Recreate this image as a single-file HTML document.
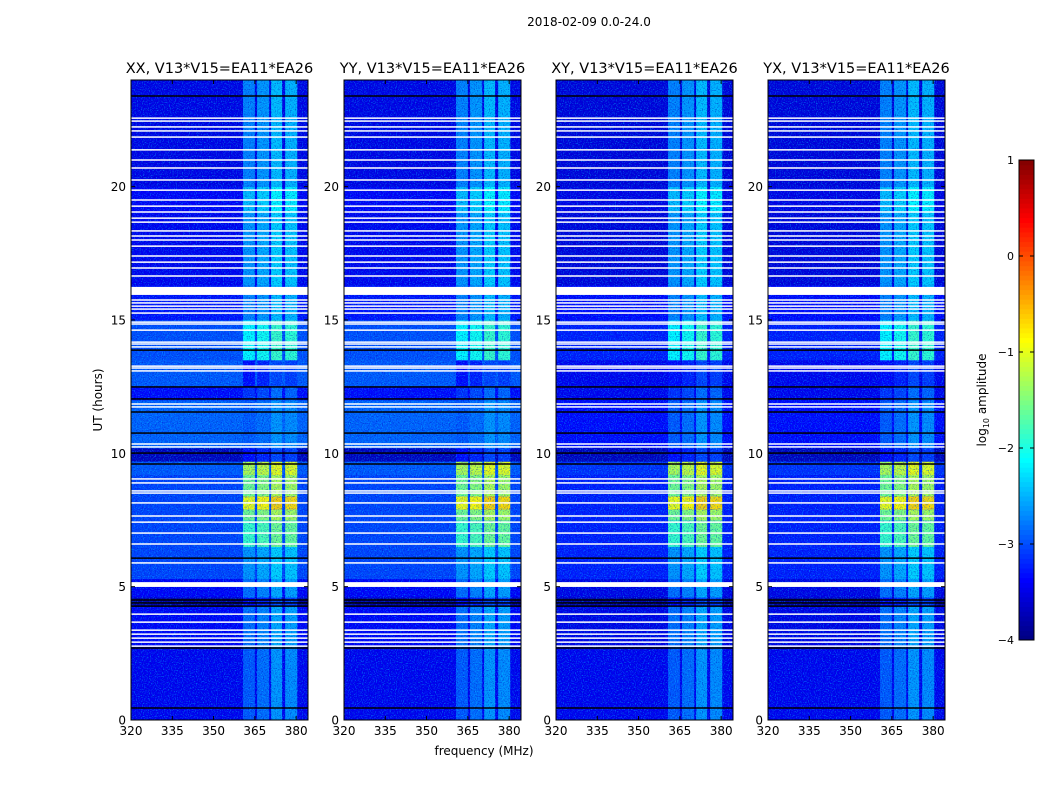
<!DOCTYPE html>
<html><head><meta charset="utf-8"><style>
body{margin:0;background:#fff;}
svg{display:block;font-family:"DejaVu Sans","Liberation Sans",sans-serif;}
</style></head><body>
<svg id="fig" width="1050" height="800" viewBox="0 0 1050 800" xmlns="http://www.w3.org/2000/svg">
<defs>
<filter id="speckLight" x="0" y="0" width="100%" height="100%">
<feTurbulence type="fractalNoise" baseFrequency="0.85" numOctaves="1" seed="3"/>
<feColorMatrix type="matrix" values="0 0 0 0 0  0 0 0 0 0.75  0 0 0 0 1  4 0 0 0 -2.0"/>
</filter>
<filter id="speckDark" x="0" y="0" width="100%" height="100%">
<feTurbulence type="fractalNoise" baseFrequency="0.85" numOctaves="1" seed="9"/>
<feColorMatrix type="matrix" values="0 0 0 0 0  0 0 0 0 0  0 0 0 0 0.45  0 -4 0 0 2.0"/>
</filter>
</defs>
<text x="589" y="26" font-size="12" text-anchor="middle">2018-02-09 0.0-24.0</text>
<g id="panels"></g>
<g id="cbar"></g>
<text x="484" y="755" font-size="12" text-anchor="middle">frequency (MHz)</text>
<text transform="translate(102,400) rotate(-90)" font-size="12" text-anchor="middle">UT (hours)</text>
</svg>
<script>
// ---- data ----
const panelTitles = ["XX, V13*V15=EA11*EA26","YY, V13*V15=EA11*EA26","XY, V13*V15=EA11*EA26","YX, V13*V15=EA11*EA26"];
const xTicks = [320,335,350,365,380];
const yTicks = [0,5,10,15,20];
const cbarTicks = [-4,-3,-2,-1,0,1];
const segStart = [0,2.7,4.3,4.6,5.3,6.5,7.5,7.9,8.4,9.2,9.7,10.2,12.0,12.5,13.5,15.0,16.3,19.0,20.0];
const segEnd   = [2.7,4.3,4.6,5.3,6.5,7.5,7.9,8.4,9.2,9.7,10.2,12.0,12.5,13.5,15.0,16.3,19.0,20.0,24];
const bgParallel = [-3.45,-3.4,-3.8,-3.4,-3.05,-3.05,-3.05,-3.05,-3.05,-2.95,-3.7,-2.9,-3.35,-2.95,-3.0,-3.3,-3.45,-3.4,-3.5];
const bgCross    = [-3.45,-3.5,-3.8,-3.5,-3.25,-3.25,-3.25,-3.25,-3.25,-3.15,-3.7,-3.35,-3.45,-3.45,-3.25,-3.35,-3.55,-3.5,-3.55];
const bandLevel  = [-2.8,-2.7,-3.2,-2.7,-2.5,-1.7,-1.4,-0.8,-1.4,-1.1,-3.2,-2.8,-3.0,-3.2,-2.0,-2.6,-2.5,-2.3,-2.6];
const bandLo = [360.7,365.8,370.9,376.0];
const bandHi = [365.0,370.2,374.9,380.4];
const bandOffset = [-0.15,-0.05,0.15,0.1];
const whiteFlags = [22.57,22.46,22.24,22.09,21.86,21.38,21.0,20.7,20.25,19.87,19.5,19.27,19.05,18.82,18.67,18.34,18.15,18.0,17.77,17.4,17.17,16.95,16.65,15.75,15.64,15.52,15.41,15.26,14.92,14.85,14.62,14.17,14.1,13.99,13.27,13.2,13.09,11.85,11.74,10.35,10.24,9.04,8.89,8.59,8.51,8.14,7.65,7.42,7.01,6.6,5.89,3.97,3.67,3.37,3.22,3.07,2.92,2.77];
const thickWhiteStart = [15.94,4.99];
const thickWhiteEnd   = [16.24,5.17];
const blackFlags = [23.4,13.87,12.49,12.04,11.55,10.76,10.01,9.6,6.07,4.5,4.39,4.27,2.7,0.45];

// ---- layout ----
const panelX = [131,344,556,768], PW = 177, PT = 80, PB = 720;
const fMin = 320, fMax = 384.3, tMin = 0, tMax = 24;
const NS = "http://www.w3.org/2000/svg";
function xs(px0,f){return px0 + (f-fMin)/(fMax-fMin)*PW;}
function ys(h){return PB - (h-tMin)/(tMax-tMin)*(PB-PT);}
function jet(v){
  let t=(v+4)/5; t=Math.max(0,Math.min(1,t));
  const c=x=>Math.round(255*Math.max(0,Math.min(1,x)));
  return `rgb(${c(1.5-Math.abs(4*t-3))},${c(1.5-Math.abs(4*t-2))},${c(1.5-Math.abs(4*t-1))})`;
}
function mk(tag,attrs,parent){const e=document.createElementNS(NS,tag);for(const k in attrs)e.setAttribute(k,attrs[k]);parent.appendChild(e);return e;}

const panels=document.getElementById('panels');
panelTitles.forEach((title,p)=>{
  const x0=panelX[p];
  const g=mk('g',{},panels);
  
  
  const bg = p<2 ? bgParallel : bgCross;
  for(let i=0;i<segStart.length;i++){
    const r=mk('rect',{x:x0,y:ys(segEnd[i]),width:PW,height:ys(segStart[i])-ys(segEnd[i])+0.3,fill:jet(bg[i])},g);
    
    
    for(let b=0;b<bandLo.length;b++){
      const br=mk('rect',{x:xs(x0,bandLo[b]),y:ys(segEnd[i]),width:xs(x0,bandHi[b])-xs(x0,bandLo[b]),height:ys(segStart[i])-ys(segEnd[i])+0.3,fill:jet(bandLevel[i]+bandOffset[b])},g);
      
      
    }
  }
  const n1=mk('rect',{x:x0,y:PT,width:PW,height:PB-PT,filter:'url(#speckLight)',opacity:0.45},g);
  
  
  const n2=mk('rect',{x:x0,y:PT,width:PW,height:PB-PT,filter:'url(#speckDark)',opacity:0.45},g);
  
  
  whiteFlags.forEach(h=>{
    const l=mk('rect',{x:x0,y:ys(h)-0.75,width:PW,height:1.5,fill:'#fff'},g);
    
    
  });
  for(let i=0;i<thickWhiteStart.length;i++){
    const l=mk('rect',{x:x0,y:ys(thickWhiteEnd[i]),width:PW,height:ys(thickWhiteStart[i])-ys(thickWhiteEnd[i]),fill:'#fff'},g);
    
    
  }
  blackFlags.forEach(h=>{
    const l=mk('rect',{x:x0,y:ys(h)-0.75,width:PW,height:1.5,fill:'#000'},g);
    
    
  });
  mk('rect',{x:x0,y:PT,width:PW,height:PB-PT,fill:'none',stroke:'#000','stroke-width':1},g);
  const t=mk('text',{x:x0+PW/2,y:PT-7,'font-size':14.5,'text-anchor':'middle'},g);
  t.textContent=title;
  
  
  xTicks.forEach(f=>{
    const X=xs(x0,f);
    mk('line',{x1:X,x2:X,y1:PB,y2:PB-4,stroke:'#000'},g);
    mk('line',{x1:X,x2:X,y1:PT,y2:PT+4,stroke:'#000'},g);
    const tl=mk('text',{x:X,y:PB+15,'font-size':12,'text-anchor':'middle'},g);
    tl.textContent=f;
    
    
  });
  yTicks.forEach(h=>{
    const Y=ys(h);
    mk('line',{x1:x0,x2:x0+4,y1:Y,y2:Y,stroke:'#000'},g);
    mk('line',{x1:x0+PW,x2:x0+PW-4,y1:Y,y2:Y,stroke:'#000'},g);
    const tl=mk('text',{x:x0-5,y:Y+4.5,'font-size':12,'text-anchor':'end'},g);
    tl.textContent=h;
    
    
  });
});

// colorbar
const cb=document.getElementById('cbar');
const CX=1019,CW=15,CT=160,CB=640;
function cy(v){return CB-(v+4)/5*(CB-CT);}
for(let i=0;i<100;i++){
  const v0=-4+i*0.05;
  const r=mk('rect',{x:CX,y:cy(v0+0.05),width:CW,height:(CB-CT)/100+0.5,fill:jet(v0+0.025)},cb);
  
  
}
mk('rect',{x:CX,y:CT,width:CW,height:CB-CT,fill:'none',stroke:'#000'},cb);
cbarTicks.forEach(v=>{
  const Y=cy(v);
  mk('line',{x1:CX,x2:CX+4,y1:Y,y2:Y,stroke:'#000'},cb);
  mk('line',{x1:CX+CW,x2:CX+CW-4,y1:Y,y2:Y,stroke:'#000'},cb);
  const tl=mk('text',{x:CX-5,y:Y+4,'font-size':11,'text-anchor':'end'},cb);
  tl.textContent=v<0?'\u2212'+(-v):String(v);
  
  
});
const cl=mk('text',{transform:'translate(986,400) rotate(-90)','font-size':12,'text-anchor':'middle'},cb);
cl.innerHTML='log<tspan font-size="8" dy="3">10</tspan><tspan dy="-3"> amplitude</tspan>';


</script>
</body></html>
